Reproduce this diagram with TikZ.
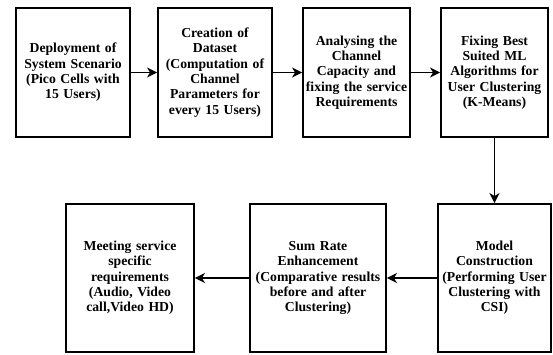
\documentclass[tikz,border=0pt]{standalone}
\usepackage{fontspec}
\setmainfont{Liberation Serif}
\usetikzlibrary{arrows.meta}
\begin{document}
\begin{tikzpicture}[x=1pt,y=1pt,
  stepbox/.style={draw, line width=1.9pt, inner sep=0pt, align=center,
    font=\bfseries\fontsize{13.7}{15.3}\selectfont},
  conn/.style={line width=1.6pt, -{Stealth[length=10pt,width=10pt,inset=3pt]}}]
\useasboundingbox (0,0) rectangle (553,354);
% row 1 (y from top: 8..137)
\node[stepbox, minimum width=114, minimum height=129, text width=114] (a) at (73,281.5)
  {Deployment of\\System Scenario\\(Pico Cells with\\15 Users)};
\node[stepbox, minimum width=114, minimum height=129, text width=114] (b) at (215,281.5)
  {Creation of\\Dataset\\(Computation of\\Channel\\Parameters for\\every 15 Users)};
\node[stepbox, minimum width=107, minimum height=129, text width=107] (c) at (356.5,281.5)
  {Analysing the\\Channel\\Capacity and\\fixing the service\\Requirements};
\node[stepbox, minimum width=107, minimum height=129, text width=107] (d) at (494.5,281.5)
  {Fixing Best\\Suited ML\\Algorithms for\\User Clustering\\(K-Means)};
% row 2 (y from top: 204..352)
\node[stepbox, minimum width=113, minimum height=148, text width=113] (e) at (494.5,76)
  {Model\\Construction\\(Performing User\\Clustering with\\CSI)};
\node[stepbox, minimum width=136, minimum height=148, text width=136] (f) at (318,76)
  {Sum Rate\\Enhancement\\(Comparative results\\before and after\\Clustering)};
\node[stepbox, minimum width=128, minimum height=148, text width=128] (g) at (130,76)
  {Meeting service\\specific\\requirements\\(Audio, Video\\call,Video HD)};
\draw[conn] (a) -- (b);
\draw[conn] (b) -- (c);
\draw[conn] (c) -- (d);
\draw[conn] (d.south) -- (d.south |- e.north);
\draw[conn] (e) -- (f);
\draw[conn] (f) -- (g);
\end{tikzpicture}
\end{document}
